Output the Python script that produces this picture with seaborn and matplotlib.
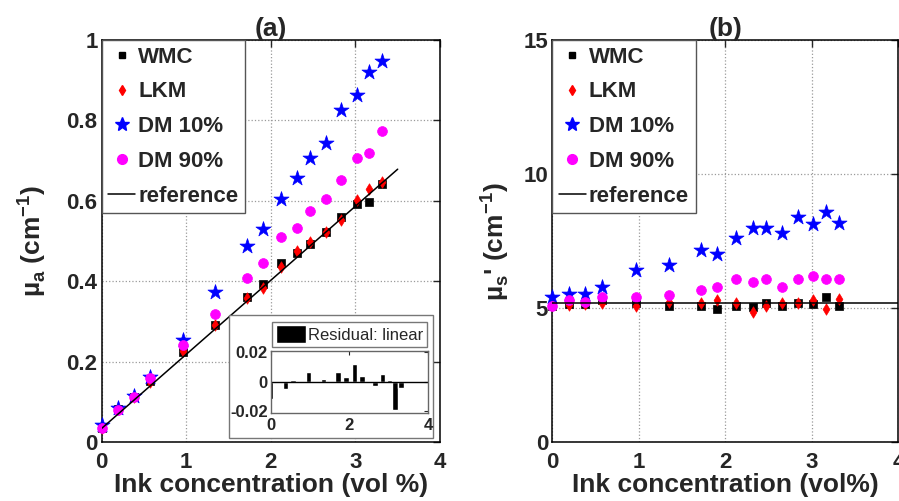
import numpy as np
import pandas as pd
import matplotlib
matplotlib.use("Agg")
import matplotlib.pyplot as plt
import seaborn as sns
from matplotlib.patches import Rectangle
from matplotlib.lines import Line2D
from matplotlib.ticker import FuncFormatter

# ---------------- data ----------------
conc = [0, 0.19, 0.38, 0.57, 0.965, 1.345, 1.715, 1.905, 2.125, 2.315,
        2.465, 2.65, 2.835, 3.015, 3.16, 3.31]

mua_wmc = [0.037, 0.082, 0.113, 0.153, 0.225, 0.292, 0.362, 0.393, 0.445, 0.470,
           0.494, 0.523, 0.561, 0.592, 0.598, 0.642]
mua_lkm = [0.037, 0.082, 0.113, 0.151, 0.228, 0.292, 0.359, 0.384, 0.436, 0.476,
           0.497, 0.523, 0.552, 0.602, 0.629, 0.648]
mua_dm10 = [0.043, 0.086, 0.116, 0.163, 0.254, 0.373, 0.488, 0.530, 0.606, 0.658,
            0.708, 0.745, 0.826, 0.863, 0.921, 0.947]
mua_dm90 = [0.037, 0.080, 0.113, 0.161, 0.242, 0.320, 0.409, 0.447, 0.511, 0.533,
            0.575, 0.605, 0.652, 0.708, 0.720, 0.774]

mus_wmc = [5.10, 5.15, 5.15, 5.30, 5.18, 5.08, 5.08, 4.98, 5.08, 5.05,
           5.18, 5.08, 5.18, 5.16, 5.41, 5.08]
mus_lkm = [5.12, 5.13, 5.15, 5.20, 5.08, 5.25, 5.18, 5.32, 5.18, 4.87,
           5.08, 5.18, 5.20, 5.30, 4.98, 5.36]
mus_dm10 = [5.43, 5.55, 5.55, 5.80, 6.42, 6.61, 7.19, 7.01, 7.61, 7.98,
            7.98, 7.79, 8.39, 8.16, 8.60, 8.19]
mus_dm90 = [5.08, 5.31, 5.24, 5.43, 5.43, 5.49, 5.70, 5.80, 6.11, 5.99,
            6.11, 5.80, 6.11, 6.21, 6.11, 6.11]

ref_a_x = [0, 3.5]
ref_a_y = [0.035, 0.679]
ref_b_x = [0, 4]
ref_b_y = [5.2, 5.2]

residual = [-0.0116, -0.0005, -0.0048, 0.0014, 0.0068, 0.0020, 0.0064, 0.0036,
            0.0120, 0.0040, -0.0003, -0.0027, 0.0050, 0.0014, -0.0189, -0.0045]

series = ["WMC", "LKM", "DM 10%", "DM 90%"]
colors = {"WMC": "black", "LKM": "red", "DM 10%": "blue", "DM 90%": "magenta"}
markers = {"WMC": "s", "LKM": "d", "DM 10%": "*", "DM 90%": "o"}
sizes = {"WMC": 28, "LKM": 34, "DM 10%": 130, "DM 90%": 50}
leg_ms = {"WMC": 4.5, "LKM": 5.5, "DM 10%": 10, "DM 90%": 7}

df_a = pd.DataFrame({"x": conc * 4,
                     "y": mua_wmc + mua_lkm + mua_dm10 + mua_dm90,
                     "s": sum([[n] * len(conc) for n in series], [])})
df_b = pd.DataFrame({"x": conc * 4,
                     "y": mus_wmc + mus_lkm + mus_dm10 + mus_dm90,
                     "s": sum([[n] * len(conc) for n in series], [])})

# ---------------- style ----------------
sns.set_style("white")
FAM = ["Liberation Sans", "DejaVu Sans"]
plt.rcParams["font.family"] = FAM
plt.rcParams["font.weight"] = "bold"
plt.rcParams["axes.labelweight"] = "bold"
plt.rcParams["axes.titleweight"] = "bold"

fig = plt.figure(figsize=(8.99, 5.01), dpi=100)
fig.patch.set_facecolor("white")
ax_a = fig.add_axes([0.1131, 0.1168, 0.3763, 0.8034])
ax_b = fig.add_axes([0.6143, 0.1168, 0.3851, 0.8034])


def style_axes(ax, ylim, yticks):
    ax.set_xlim(0, 4)
    ax.set_ylim(*ylim)
    ax.set_xticks([0, 1, 2, 3, 4])
    ax.set_yticks(yticks)
    ax.yaxis.set_major_formatter(FuncFormatter(lambda v, p: f"{v:g}"))
    ax.grid(True, linestyle=":", color="#9a9a9a", linewidth=0.9)
    ax.tick_params(direction="in", top=True, right=True, length=5, width=1,
                   labelsize=16, pad=3)
    ax.tick_params(axis="x", pad=7)
    for lab in ax.get_xticklabels() + ax.get_yticklabels():
        lab.set_fontweight("bold")
    for sp in ax.spines.values():
        sp.set_color("black")
        sp.set_linewidth(1.1)


def draw(ax, df, rx, ry):
    for n in series:
        sns.scatterplot(data=df[df.s == n], x="x", y="y", ax=ax,
                        color=colors[n], marker=markers[n], s=sizes[n],
                        edgecolor=colors[n], linewidth=0.5, legend=False,
                        zorder=3, clip_on=False)
    sns.lineplot(x=rx, y=ry, ax=ax, color="black", linewidth=1.1,
                 legend=False, zorder=4)
    handles = [Line2D([], [], linestyle="none", marker=markers[n],
                      color=colors[n], markersize=leg_ms[n]) for n in series]
    handles.append(Line2D([], [], color="black", linewidth=1.1))
    leg = ax.legend(handles, series + ["reference"], loc="upper left",
                    bbox_to_anchor=(0, 1), borderaxespad=0, fancybox=False,
                    framealpha=1, edgecolor="#555555", prop={"size": 16,
                    "weight": "bold", "family": FAM},
                    handlelength=1.2, handletextpad=0.15, labelspacing=0.62,
                    borderpad=0.3)
    leg.get_frame().set_linewidth(1.0)
    leg.set_zorder(5)


draw(ax_a, df_a, ref_a_x, ref_a_y)
draw(ax_b, df_b, ref_b_x, ref_b_y)
style_axes(ax_a, (0, 1), [0, 0.2, 0.4, 0.6, 0.8, 1.0])
style_axes(ax_b, (0, 15), [0, 5, 10, 15])

ax_a.set_xlabel("Ink concentration (vol %)", fontsize=19, fontweight="bold", labelpad=0)
ax_b.set_xlabel("Ink concentration (vol%)", fontsize=19, fontweight="bold", labelpad=0)
ax_a.set_ylabel("\u00b5$_\\mathregular{a}$ (cm$^\\mathregular{-1}$)", fontsize=19,
                fontweight="bold", labelpad=13)
ax_b.set_ylabel("\u00b5$_\\mathregular{s}$' (cm$^\\mathregular{-1}$)", fontsize=19,
                fontweight="bold", labelpad=9)
ax_a.set_title("(a)", fontsize=19, fontweight="bold", pad=3)
ax_b.set_title("(b)", fontsize=19, fontweight="bold", pad=3)

# ---------------- inset ----------------
box = Rectangle((0.2551, 0.1257), 0.2266, 0.2455, transform=fig.transFigure,
                facecolor="white", edgecolor="#777777", linewidth=1.0, zorder=10)
fig.patches.append(box)

ax_in = fig.add_axes([0.3011, 0.1763, 0.1753, 0.1232])
ax_in.set_zorder(11)
ax_in.bar(conc, residual, width=0.14, color="black", label="Residual: linear")
ax_in.axhline(0, color="black", linewidth=1.0)
ax_in.set_xlim(0, 4)
ax_in.set_ylim(-0.021, 0.021)
ax_in.set_xticks([0, 2, 4])
ax_in.set_yticks([-0.02, 0, 0.02])
ax_in.yaxis.set_major_formatter(FuncFormatter(lambda v, p: f"{v:g}"))
ax_in.tick_params(direction="in", length=3, labelsize=12, pad=2,
                  top=True, right=True)
ax_in.tick_params(axis="x", pad=4)
for lab in ax_in.get_xticklabels() + ax_in.get_yticklabels():
    lab.set_fontweight("bold")
for sp in ax_in.spines.values():
    sp.set_color("#666666")
    sp.set_linewidth(1.0)
lg = ax_in.legend(loc="lower center", bbox_to_anchor=(0.5, 1.0), borderaxespad=0.25,
                  fancybox=False, framealpha=1, edgecolor="#777777",
                  prop={"size": 12, "weight": "normal", "family": FAM},
                  handlelength=1.8, handleheight=1.3, handletextpad=0.15,
                  borderpad=0.2)
lg.get_frame().set_linewidth(1.0)

fig.savefig("out.png", dpi=100, facecolor="white")
